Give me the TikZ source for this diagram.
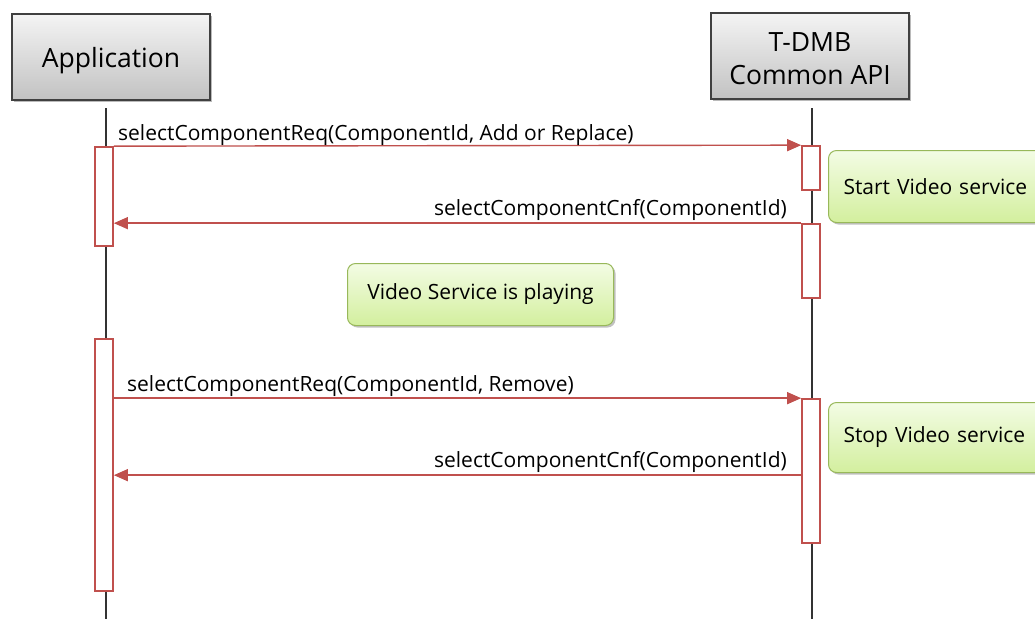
\documentclass[tikz,border=0pt]{standalone}
\usepackage{fontspec}
\setmainfont{Open Sans}
\usetikzlibrary{arrows.meta,shadows}
\definecolor{msgred}{HTML}{C0504D}
\definecolor{headtop}{HTML}{F4F4F4}
\definecolor{headbot}{HTML}{C2C2C2}
\definecolor{notetop}{HTML}{F3FCE4}
\definecolor{notebot}{HTML}{D3EF9E}
\definecolor{noteline}{HTML}{98B85A}
\tikzset{
  header/.style={draw=black!75, line width=1.2pt, top color=headtop, bottom color=headbot,
    minimum width=198pt, minimum height=86pt, inner sep=0pt,
    drop shadow={shadow xshift=2pt, shadow yshift=-2pt, opacity=.45, fill=black!60}},
  headtext/.style={inner sep=0pt, align=center, font=\fontsize{26.5}{33}\selectfont},
  lifeline/.style={draw=black!80, line width=1.3pt},
  actbox/.style={draw=msgred, line width=1.7pt, fill=white, minimum width=18pt, inner sep=0pt},
  msg/.style={draw=msgred, line width=1.4pt, -{Triangle[length=14pt,width=12pt]}},
  msglabel/.style={inner sep=0pt, font=\fontsize{21}{25}\selectfont},
  note/.style={draw=noteline, line width=1pt, rounded corners=8pt, top color=notetop, bottom color=notebot,
    inner sep=0pt, font=\fontsize{21}{25}\selectfont,
    drop shadow={shadow xshift=2pt, shadow yshift=-2pt, opacity=.4, fill=black!60}}
}
\begin{document}
\begin{tikzpicture}[x=1pt,y=1pt]
  \useasboundingbox (0,0) rectangle (1035,-619);
  \clip (0,0) rectangle (1035,-619);
  \fill[white] (0,0) rectangle (1035,-619);

  % participants
  \node[header] (app) at (111,-57) {};
  \node[headtext] (appname) at ([yshift=-3.5pt]app.center) {Application};
  \node[header] (api) at (810,-56) {};
  \node[headtext] (apiname) at ([yshift=-2.5pt]api.center) {T-DMB\\Common API};

  % lifelines
  \coordinate (appTop) at (106,-108);
  \coordinate (appBot) at (106,-619);
  \coordinate (apiTop) at (812,-108);
  \coordinate (apiBot) at (812,-619);
  \draw[lifeline] (appTop) -- (appBot);
  \draw[lifeline] (apiTop) -- (apiBot);

  % activation bars
  \node[actbox, minimum height=99pt]  (a1) at (104,-196.5) {};
  \node[actbox, minimum height=252pt] (a2) at (104,-465) {};
  \node[actbox, minimum height=44pt]  (t1) at (811,-168) {};
  \node[actbox, minimum height=74pt]  (t2) at (811,-261) {};
  \node[actbox, minimum height=144pt] (t3) at (811,-471) {};

  % notes
  \node[note, minimum width=217pt, minimum height=72pt, anchor=north west, text width=200pt, align=left]
    (start) at (828,-150) {\hspace*{6.5pt}Start Video service};
  \node[note, minimum width=266pt, minimum height=62pt, anchor=north west]
    (play) at (347,-263) {Video Service is playing};
  \node[note, minimum width=217pt, minimum height=70pt, anchor=north west, text width=200pt, align=left]
    (stop) at (828,-402) {\hspace*{6.5pt}Stop Video service};

  % messages
  \coordinate (m2s) at (t2.north west);
  \coordinate (m3e) at (t3.north west);
  \coordinate (m4s) at ([yshift=-77pt]t3.north west);
  \draw[msg] (a1.north east) -- (t1.north west);
  \draw[msg] (m2s) -- (a1.east |- m2s);
  \draw[msg] (a2.east |- m3e) -- (m3e);
  \draw[msg] (m4s) -- (a2.east |- m4s);

  % message labels
  \node[msglabel, anchor=base west] (l1) at (118,-140) {selectComponentReq(ComponentId, Add or Replace)};
  \node[msglabel, anchor=base east] (l2) at (787,-215) {selectComponentCnf(ComponentId)};
  \node[msglabel, anchor=base west] (l3) at (127,-391) {selectComponentReq(ComponentId, Remove)};
  \node[msglabel, anchor=base east] (l4) at (787,-467) {selectComponentCnf(ComponentId)};
\end{tikzpicture}
\end{document}
